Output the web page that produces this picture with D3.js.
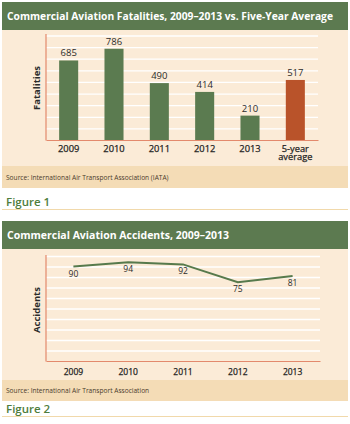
<!DOCTYPE html>
<html>
<head>
<meta charset="utf-8">
<script src="https://cdn.jsdelivr.net/npm/d3@7"></script>
<style>
  body { margin: 0; background: #fff; }
  svg text { font-family: "Open Sans", "Liberation Sans", sans-serif; }
</style>
</head>
<body>
<svg id="chart"></svg>
<script>
// data
const fatalCats = ["2009", "2010", "2011", "2012", "2013", "5-year average"];
const fatalities = [685, 786, 490, 414, 210, 517];
const fatalTicks = [100, 200, 300, 400, 500, 600, 700, 800, 900];

const accYears = ["2009", "2010", "2011", "2012", "2013"];
const accidents = [90, 94, 92, 75, 81];
const accTicks = [10, 20, 30, 40, 50, 60, 70, 80, 90, 100];

const W = 350, H = 424;
const green = "#5c7a50", beige = "#fbebd7", band = "#f4dcb6";
const axisCol = "#e3896c", figGreen = "#4f7d3c";

const svg = d3.select("#chart").attr("width", W).attr("height", H);

function panel(top, bottom, bandTop, title, titleLen, source, fig, figY) {
  svg.append("rect").attr("x", 2).attr("y", top).attr("width", 346).attr("height", 28).attr("fill", green);
  svg.append("rect").attr("x", 2).attr("y", top + 28).attr("width", 346).attr("height", bottom - top - 28).attr("fill", beige);
  svg.append("rect").attr("x", 2).attr("y", bandTop).attr("width", 346).attr("height", bottom - bandTop).attr("fill", band);
  svg.append("text").attr("x", 7).attr("y", top + 18).text(title)
    .attr("fill", "#fff").attr("font-weight", "bold").attr("font-size", 10.6)
    .attr("textLength", titleLen).attr("lengthAdjust", "spacingAndGlyphs");
  svg.append("text").attr("x", 6).attr("y", (bandTop + bottom) / 2 + 2.5).text(source)
    .attr("fill", "#4a3b2c").attr("font-size", 6.6);
  svg.append("text").attr("x", 6).attr("y", figY).text(fig)
    .attr("fill", figGreen).attr("font-size", 11.5).attr("font-weight", 600);
  svg.append("line").attr("x1", 2).attr("x2", 348).attr("y1", figY + 3.5).attr("y2", figY + 3.5)
    .attr("stroke", "#f1d9ab").attr("stroke-width", 1);
}

// FIGURE 1
panel(2, 188, 166, "Commercial Aviation Fatalities, 2009\u20132013 vs. Five-Year Average", 326,
  "Source: International Air Transport Association (IATA)", "Figure 1", 206);

const x1 = d3.scaleBand().domain(fatalCats).range([46, 318]).paddingInner(0.58).paddingOuter(0.29);
const y1 = d3.scaleLinear().domain([0, 900]).range([140, 35.5]);

svg.append("g").attr("transform", "translate(46,0)")
  .call(d3.axisLeft(y1).tickValues(fatalTicks).tickSize(-272).tickFormat(""))
  .call(g => g.select(".domain").remove())
  .call(g => g.selectAll("line").attr("stroke", "#fff").attr("stroke-width", 1.3));

svg.selectAll(".bar1").data(fatalities).enter().append("rect")
  .attr("class", "bar1")
  .attr("x", (d, i) => x1(fatalCats[i]))
  .attr("width", x1.bandwidth())
  .attr("y", d => y1(d))
  .attr("height", d => y1(0) - y1(d))
  .attr("fill", (d, i) => i === 5 ? "#b9532a" : "#5b7b50");

svg.selectAll(".val1").data(fatalities).enter().append("text")
  .attr("class", "val1")
  .attr("x", (d, i) => x1(fatalCats[i]) + x1.bandwidth() / 2)
  .attr("y", d => y1(d) - 4)
  .attr("text-anchor", "middle").attr("font-size", 9.5).attr("fill", "#2b2b2b")
  .text(d => d);

svg.append("g").attr("transform", "translate(0,140)")
  .call(d3.axisBottom(x1).tickSize(0).tickPadding(0).tickFormat(""))
  .call(g => g.select(".domain").attr("stroke", axisCol).attr("stroke-width", 1.2));
svg.append("line").attr("x1", 46).attr("x2", 46).attr("y1", 34).attr("y2", 140.5)
  .attr("stroke", axisCol).attr("stroke-width", 1.2);

fatalCats.forEach(c => {
  const cx = x1(c) + x1.bandwidth() / 2;
  const lines = c === "5-year average" ? ["5-year", "average"] : [c];
  lines.forEach((s, k) => {
    svg.append("text").attr("x", cx).attr("y", 151.5 + k * 8.6).attr("text-anchor", "middle")
      .attr("font-size", 9.3).attr("fill", "#1f1f1f").attr("stroke", "#1f1f1f")
      .attr("stroke-width", 0.25).text(s);
  });
});

svg.append("text").attr("transform", "translate(40,88) rotate(-90)")
  .attr("text-anchor", "middle").attr("font-size", 9.5).attr("font-weight", "bold")
  .attr("fill", "#2b2b2b").text("Fatalities");

// FIGURE 2
panel(221, 401, 380, "Commercial Aviation Accidents, 2009\u20132013", 222,
  "Source: International Air Transport Association", "Figure 2", 413);

const x2 = d3.scaleBand().domain(accYears).range([46, 320]);
const y2 = d3.scaleLinear().domain([0, 100]).range([361, 256]);

svg.append("g").attr("transform", "translate(46,0)")
  .call(d3.axisLeft(y2).tickValues(accTicks).tickSize(-274).tickFormat(""))
  .call(g => g.select(".domain").remove())
  .call(g => g.selectAll("line").attr("stroke", "#fff").attr("stroke-width", 1.3));

const line = d3.line()
  .x((d, i) => x2(accYears[i]) + x2.bandwidth() / 2)
  .y(d => y2(d));
svg.append("path").datum(accidents).attr("d", line)
  .attr("fill", "none").attr("stroke", "#577a4c").attr("stroke-width", 2);

svg.selectAll(".val2").data(accidents).enter().append("text")
  .attr("class", "val2")
  .attr("x", (d, i) => x2(accYears[i]) + x2.bandwidth() / 2)
  .attr("y", d => y2(d) + 10)
  .attr("text-anchor", "middle").attr("font-size", 8.5).attr("fill", "#2b2b2b")
  .text(d => d);

svg.append("g").attr("transform", "translate(0,361)")
  .call(d3.axisBottom(x2).tickSize(0).tickPadding(8))
  .call(g => g.select(".domain").attr("stroke", axisCol).attr("stroke-width", 1.2))
  .call(g => g.selectAll("text").attr("font-size", 8.5).attr("fill", "#1f1f1f")
    .attr("stroke", "#1f1f1f").attr("stroke-width", 0.25)
    .attr("font-family", "'Open Sans', sans-serif"));
svg.append("line").attr("x1", 46).attr("x2", 46).attr("y1", 255).attr("y2", 361.5)
  .attr("stroke", axisCol).attr("stroke-width", 1.2);

svg.append("text").attr("transform", "translate(40,310) rotate(-90)")
  .attr("text-anchor", "middle").attr("font-size", 9.5).attr("font-weight", "bold")
  .attr("fill", "#2b2b2b").text("Accidents");
</script>
</body>
</html>
